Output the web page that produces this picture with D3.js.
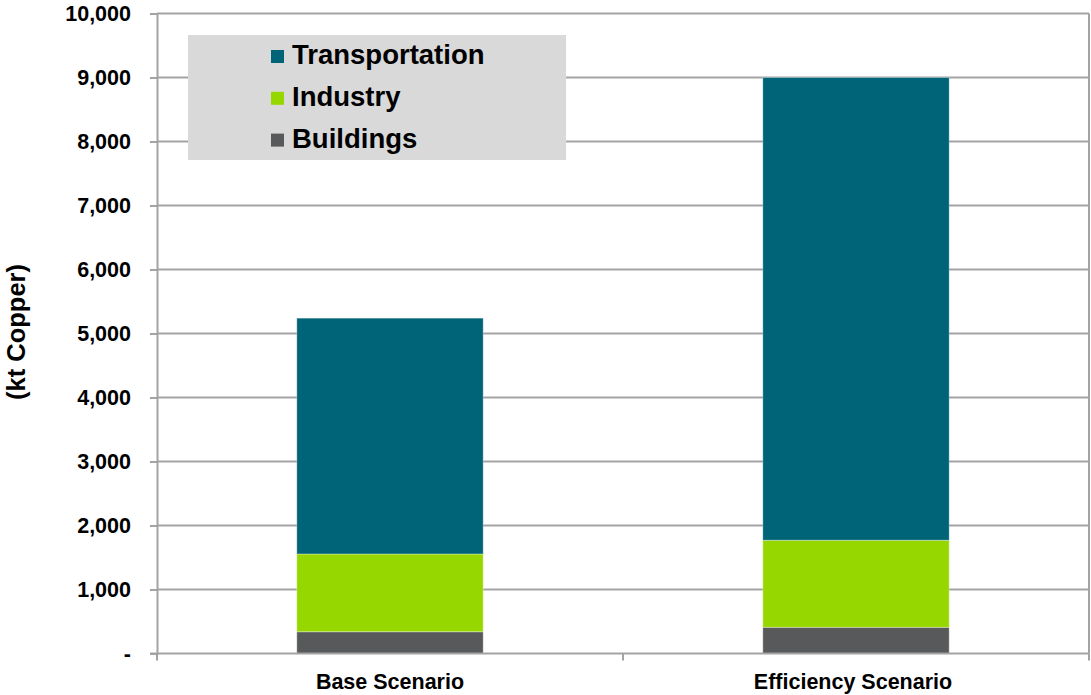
<!DOCTYPE html>
<html>
<head>
<meta charset="utf-8">
<script src="https://cdn.jsdelivr.net/npm/d3@7/dist/d3.min.js"></script>
<style>
  html, body { margin: 0; padding: 0; background: #ffffff; }
  svg { display: block; font-family: "Liberation Sans", Arial, sans-serif; font-weight: bold; }
</style>
</head>
<body>
<svg id="chart" width="1091" height="695"></svg>
<script>
// ---- data ----
const categories = ["Base Scenario", "Efficiency Scenario"];
const seriesNames = ["Buildings", "Industry", "Transportation"];
const buildings = [340, 410];
const industry = [1215, 1360];
const transportation = [3685, 7230];
const yTicks = [0, 1000, 2000, 3000, 4000, 5000, 6000, 7000, 8000, 9000, 10000];
const yTickLabels = ["-", "1,000", "2,000", "3,000", "4,000", "5,000", "6,000", "7,000", "8,000", "9,000", "10,000"];
const legendOrder = ["Transportation", "Industry", "Buildings"];
const colors = { Buildings: "#58595b", Industry: "#97d700", Transportation: "#006478" };

const rows = categories.map((c, i) => ({
  category: c,
  Buildings: buildings[i],
  Industry: industry[i],
  Transportation: transportation[i]
}));

// ---- layout ----
const svg = d3.select("#chart");
const margin = { left: 157, right: 2, top: 13.5, bottom: 41.5 };
const W = 1091, H = 695;
const plotW = W - margin.left - margin.right;
const plotH = H - margin.top - margin.bottom;

const x = d3.scaleBand().domain(categories).range([margin.left, margin.left + plotW])
  .paddingInner(0.6).paddingOuter(0.3);
const xOuter = d3.scaleBand().domain(categories).range([margin.left, margin.left + plotW]).padding(0);
const y = d3.scaleLinear().domain([0, 10000]).range([margin.top + plotH, margin.top]);

const gridColor = "#a3a3a3";

// gridlines
svg.append("g").selectAll("line").data(yTicks.filter(t => t > 0)).join("line")
  .attr("x1", margin.left).attr("x2", margin.left + plotW)
  .attr("y1", d => y(d)).attr("y2", d => y(d))
  .attr("stroke", gridColor).attr("stroke-width", 2);

// right border
svg.append("line")
  .attr("x1", margin.left + plotW).attr("x2", margin.left + plotW)
  .attr("y1", y(10000)).attr("y2", y(0))
  .attr("stroke", gridColor).attr("stroke-width", 2);

// bars
const stack = d3.stack().keys(seriesNames)(rows);
svg.append("g").selectAll("g").data(stack).join("g")
  .attr("fill", d => colors[d.key])
  .selectAll("rect").data(d => d).join("rect")
  .attr("x", d => x(d.data.category))
  .attr("width", x.bandwidth())
  .attr("y", d => y(d[1]))
  .attr("height", d => y(d[0]) - y(d[1]))
  .attr("stroke", "rgba(255,255,255,0.35)")
  .attr("stroke-width", 1);

// y axis
const yAxis = d3.axisLeft(y).tickValues(yTicks)
  .tickFormat((d, i) => yTickLabels[i]).tickSize(7).tickPadding(19);
const gy = svg.append("g").attr("transform", `translate(${margin.left},0)`).call(yAxis);
gy.select(".domain").attr("stroke", gridColor).attr("stroke-width", 2);
gy.selectAll(".tick line").attr("stroke", gridColor).attr("stroke-width", 2);
gy.selectAll(".tick text").attr("font-size", 21.5).attr("font-weight", "bold")
  .attr("fill", "#000").attr("font-family", "Liberation Sans, Arial, sans-serif");

// x axis
const gx = svg.append("g").attr("transform", `translate(0,${y(0)})`);
gx.append("line").attr("x1", margin.left - 7).attr("x2", margin.left + plotW)
  .attr("y1", 0).attr("y2", 0).attr("stroke", gridColor).attr("stroke-width", 2);
const boundaries = [xOuter(categories[0]), xOuter(categories[1]), xOuter(categories[1]) + xOuter.bandwidth()];
gx.selectAll("line.tk").data(boundaries).join("line").attr("class", "tk")
  .attr("x1", d => d).attr("x2", d => d).attr("y1", 0).attr("y2", 7)
  .attr("stroke", gridColor).attr("stroke-width", 2);
gx.selectAll("text").data(categories).join("text")
  .attr("x", d => x(d) + x.bandwidth() / 2 - (d === categories[1] ? 3 : 0))
  .attr("y", 35)
  .attr("text-anchor", "middle")
  .attr("font-size", 21.5).attr("fill", "#000")
  .text(d => d);

// y title
svg.append("text")
  .attr("transform", `translate(25,332) rotate(-90)`)
  .attr("text-anchor", "middle")
  .attr("font-size", 25.5).attr("fill", "#000")
  .text("(kt Copper)");

// legend
const lg = svg.append("g");
lg.append("rect").attr("x", 188).attr("y", 35).attr("width", 378).attr("height", 125).attr("fill", "#d9d9d9");
const items = lg.selectAll("g.item").data(legendOrder).join("g").attr("class", "item")
  .attr("transform", (d, i) => `translate(271,${64 + i * 41.8})`);
items.append("rect").attr("x", 0).attr("y", -14).attr("width", 13).attr("height", 13)
  .attr("fill", d => colors[d]);
items.append("text").attr("x", 21).attr("y", 0).attr("font-size", 27.5).attr("fill", "#000")
  .text(d => d);
</script>
</body>
</html>
